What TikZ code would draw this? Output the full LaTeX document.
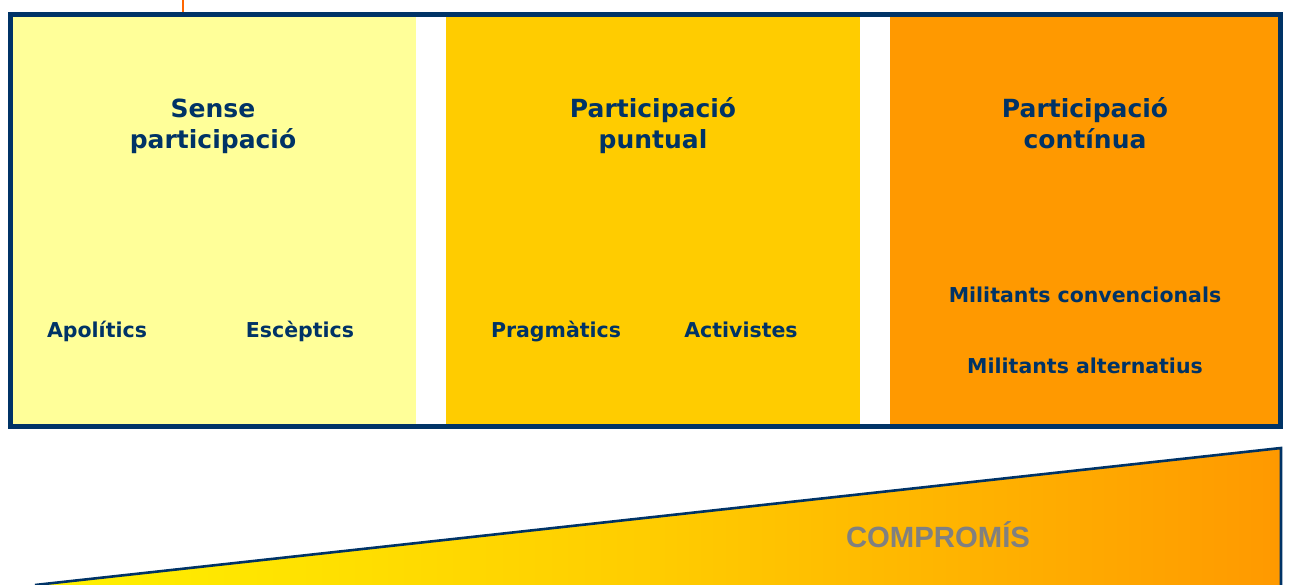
\documentclass[tikz,border=0pt]{standalone}
\usepackage{fontspec}
\setmainfont{DejaVu Sans}
\newfontfamily\arialb{Liberation Sans}
\definecolor{navy}{HTML}{003366}
\definecolor{paleY}{HTML}{FFFF99}
\definecolor{goldY}{HTML}{FFCC00}
\definecolor{orngY}{HTML}{FF9900}
\definecolor{brightY}{HTML}{FFF200}
\definecolor{redO}{HTML}{FF6600}
\definecolor{grayT}{HTML}{808080}
\begin{document}
\begin{tikzpicture}[x=1pt,y=-1pt,
  title/.style={font=\fontsize{25}{30}\selectfont\bfseries,text=navy,anchor=base,inner sep=0pt},
  lab/.style={font=\fontsize{20.5}{24}\selectfont\bfseries,text=navy,anchor=base,inner sep=0pt}]
\useasboundingbox (0,0) rectangle (1289,585);
% panels
\fill[paleY] (12,17) rectangle (416,424);
\fill[goldY] (446,17) rectangle (860,424);
\fill[orngY] (890,17) rectangle (1278,424);
\draw[navy,line width=5pt] (10,14.5) rectangle (1280,426.5);
\draw[redO,line width=2.4pt] (183,0) -- (183,12);
% titles
\node[title] (t1a) at (213,117.5) {Sense};
\node[title] (t1b) at (213,149) {participació};
\node[title] (t2a) at (653,117.5) {Participació};
\node[title] (t2b) at (653,149) {puntual};
\node[title] (t3a) at (1085,117.5) {Participació};
\node[title] (t3b) at (1085,149) {contínua};
% labels
\node[lab] (a) at (97,337.5) {Apolítics};
\node[lab] (e) at (300,337.5) {Escèptics};
\node[lab] (p) at (556,337.5) {Pragmàtics};
\node[lab] (ac) at (741,337.5) {Activistes};
\node[lab] (mc) at (1085,302.5) {Militants convencionals};
\node[lab] (ma) at (1085,373.5) {Militants alternatius};
% triangle
\coordinate (L) at (35,585);
\coordinate (R) at (1281,448);
\coordinate (B) at (1281,585);
\shade[left color=brightY,right color=orngY,middle color=goldY] (L) -- (R) -- (B) -- cycle;
\draw[navy,line width=2.6pt,line join=miter] (L) -- (R) -- (B);
\node[font=\arialb\fontsize{29.3}{31}\selectfont\bfseries,text=grayT] (c) at (938,535) {COMPROMÍS};
\end{tikzpicture}
\end{document}
